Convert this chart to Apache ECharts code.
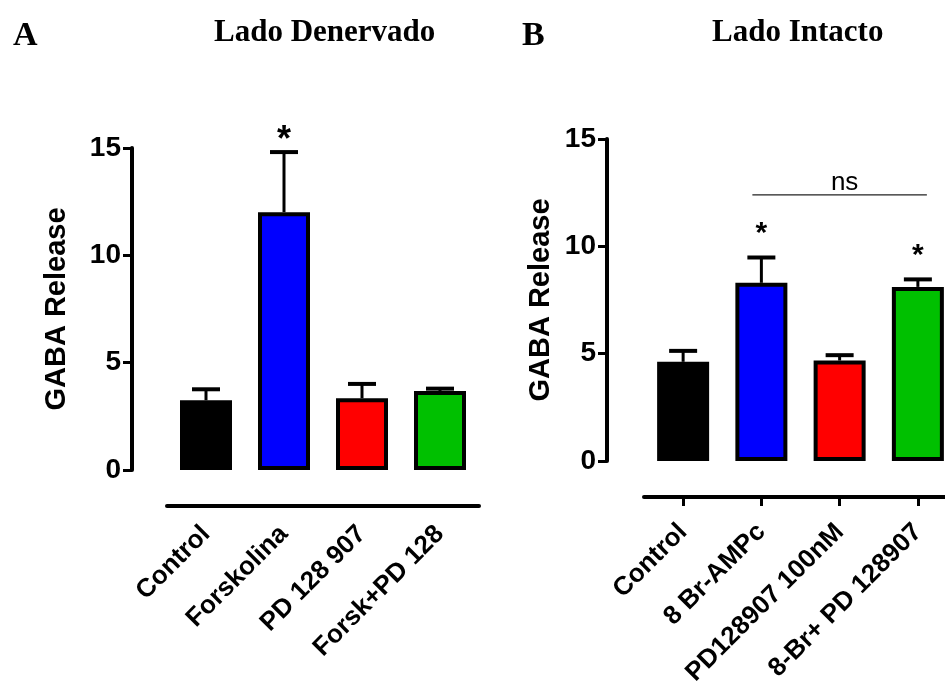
<!DOCTYPE html>
<html>
<head>
<meta charset="utf-8">
<script src="https://cdn.jsdelivr.net/npm/echarts@6/dist/echarts.min.js"></script>
<style>
html, body { margin: 0; padding: 0; background: #fff; }
#main { width: 945px; height: 689px; }
</style>
</head>
<body>
<div id="main"></div>
<script>
// panel A - Lado Denervado
var catsA = ["Control", "Forskolina", "PD 128 907", "Forsk+PD 128"];
var meanA = [3.25, 12.01, 3.34, 3.68];
var semA = [0.51, 2.8, 0.67, 0.11];
var starA = ["", "*", "", ""];

// panel B - Lado Intacto
var catsB = ["Control", "8 Br-AMPc", "PD128907 100nM", "8-Br+ PD 128907"];
var meanB = [4.62, 8.3, 4.68, 8.11];
var semB = [0.51, 1.18, 0.25, 0.35];
var starB = ["", "*", "", "*"];
var nsSpan = [1, 3];
var nsLevel = 12.4;

var yTicks = [0, 5, 10, 15];
var barColors = ["#000000", "#0000ff", "#ff0000", "#00c000"];

function barData(means) {
	return means.map(function(v, i) {
		return { value : v, itemStyle : { color : barColors[i] } };
	});
}

function errRender(stars, starLift, starSize) {
	return function(params, api) {
		var i = api.value(0);
		var base = api.coord([i, api.value(1)]);
		var top = api.coord([i, api.value(1) + api.value(2)]);
		var kids = [ {
			type : "line",
			shape : { x1 : base[0], y1 : base[1], x2 : top[0], y2 : top[1] },
			style : { stroke : "#000", lineWidth : 3 }
		}, {
			type : "line",
			shape : { x1 : top[0] - 14, y1 : top[1], x2 : top[0] + 14, y2 : top[1] },
			style : { stroke : "#000", lineWidth : 4 }
		} ];
		if (stars[params.dataIndex]) {
			kids.push({
				type : "text",
				x : top[0],
				y : top[1] - starLift,
				style : {
					text : stars[params.dataIndex],
					fill : "#000",
					font : "bold " + starSize + "px 'Liberation Sans', Arial",
					align : "center",
					verticalAlign : "middle"
				}
			});
		}
		return { type : "group", children : kids };
	};
}

function errData(means, sems) {
	return means.map(function(v, i) { return [i, v, sems[i]]; });
}

var titleFont = { fontFamily : "'Liberation Serif', serif", fontWeight : "bold", color : "#000" };

function yAxisOpt(grid, offset, gap) {
	return {
		type : "value", gridIndex : grid, min : 0, max : 15, interval : 5, offset : offset,
		name : "GABA Release", nameLocation : "middle", nameGap : gap,
		nameTextStyle : { fontFamily : "'Liberation Sans', Arial", fontWeight : "bold", fontSize : 29, color : "#000" },
		axisLine : { show : true, lineStyle : { color : "#000", width : 4 } },
		axisTick : { show : true, length : 9, lineStyle : { color : "#000", width : 3 } },
		axisLabel : { margin : 11, fontFamily : "'Liberation Sans', Arial", fontWeight : "bold", fontSize : 28, color : "#000",
			formatter : function(v) { return yTicks.indexOf(v) >= 0 ? String(v) : ""; } },
		splitLine : { show : false }
	};
}

function xAxisOpt(grid, cats, ticks, margin) {
	return {
		type : "category", gridIndex : grid, data : cats, offset : 36,
		axisLine : { show : true, onZero : false, lineStyle : { color : "#000", width : 4 } },
		axisTick : { show : ticks, alignWithLabel : true, length : 9, lineStyle : { color : "#000", width : 3 } },
		axisLabel : { rotate : 45, margin : margin, interval : 0, fontFamily : "'Liberation Sans', Arial", fontWeight : "bold", fontSize : 26, color : "#000" }
	};
}

var chart = echarts.init(document.getElementById("main"));
var option = {
	animation : false,
	backgroundColor : "#fff",
	title : [
		{ text : "A", left : 8, top : 14, textStyle : Object.assign({ fontSize : 34 }, titleFont) },
		{ text : "Lado Denervado", left : 209, top : 12, textStyle : Object.assign({ fontSize : 31 }, titleFont) },
		{ text : "B", left : 517, top : 14, textStyle : Object.assign({ fontSize : 34 }, titleFont) },
		{ text : "Lado Intacto", left : 707, top : 12, textStyle : Object.assign({ fontSize : 31 }, titleFont) }
	],
	grid : [
		{ left : 167, top : 148, width : 312, height : 322, outerBoundsMode : "none" },
		{ left : 644, top : 139, width : 313, height : 322, outerBoundsMode : "none" }
	],
	xAxis : [ xAxisOpt(0, catsA, false, 24), xAxisOpt(1, catsB, true, 31) ],
	yAxis : [ yAxisOpt(0, 35, 61), yAxisOpt(1, 37, 52) ],
	series : [ {
		type : "bar", xAxisIndex : 0, yAxisIndex : 0, barWidth : 52,
		itemStyle : { borderColor : "#000", borderWidth : 4 },
		data : barData(meanA)
	}, {
		type : "custom", xAxisIndex : 0, yAxisIndex : 0, z : 3,
		renderItem : errRender(starA, 11, 36),
		data : errData(meanA, semA)
	}, {
		type : "bar", xAxisIndex : 1, yAxisIndex : 1, barWidth : 52,
		itemStyle : { borderColor : "#000", borderWidth : 4 },
		data : barData(meanB)
	}, {
		type : "custom", xAxisIndex : 1, yAxisIndex : 1, z : 3,
		renderItem : errRender(starB, 24, 30),
		data : errData(meanB, semB)
	}, {
		type : "custom", xAxisIndex : 1, yAxisIndex : 1, z : 3,
		renderItem : function(params, api) {
			var a = api.coord([api.value(0), api.value(2)]);
			var b = api.coord([api.value(1), api.value(2)]);
			return { type : "group", children : [ {
				type : "line",
				shape : { x1 : a[0] - 9, y1 : a[1], x2 : b[0] + 9, y2 : b[1] },
				style : { stroke : "#222", lineWidth : 1.2 }
			}, {
				type : "text",
				x : (a[0] + b[0]) / 2 + 5, y : a[1] + 1,
				style : { text : "ns", fill : "#000", font : "26px 'Liberation Sans', Arial", align : "center", verticalAlign : "bottom" }
			} ] };
		},
		data : [ [nsSpan[0], nsSpan[1], nsLevel] ]
	} ]
};
chart.setOption(option);
window.addEventListener("resize", chart.resize);
</script>
</body>
</html>
